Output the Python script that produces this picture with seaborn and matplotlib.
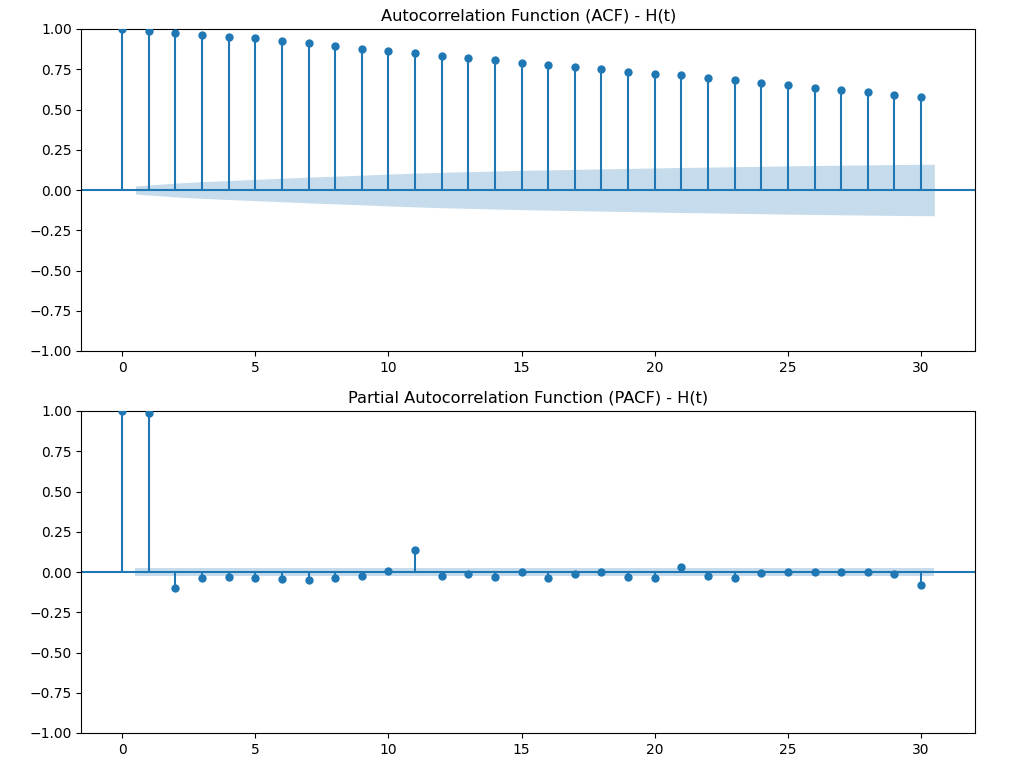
import numpy as np
import pandas as pd
import matplotlib
matplotlib.use("Agg")
import matplotlib.pyplot as plt
import seaborn as sns

lags = list(range(31))

acf_values = [1.000, 0.988, 0.977, 0.965, 0.952, 0.942, 0.923, 0.913, 0.894, 0.874,
              0.861, 0.849, 0.832, 0.818, 0.805, 0.787, 0.774, 0.762, 0.752, 0.735,
              0.722, 0.712, 0.694, 0.681, 0.665, 0.650, 0.632, 0.619, 0.607, 0.588,
              0.576]

# half-width of confidence band for lags 1..30
acf_band = [0.025, 0.043, 0.052, 0.059, 0.066, 0.073, 0.080, 0.086, 0.092, 0.099,
            0.105, 0.110, 0.114, 0.118, 0.122, 0.125, 0.128, 0.131, 0.134, 0.137,
            0.140, 0.142, 0.145, 0.147, 0.150, 0.152, 0.154, 0.156, 0.158, 0.160]

pacf_values = [1.000, 0.989, -0.097, -0.035, -0.029, -0.037, -0.041, -0.050, -0.039, -0.023,
               0.009, 0.139, -0.023, -0.014, -0.029, 0.002, -0.035, -0.014, 0.002, -0.029,
               -0.035, 0.034, -0.027, -0.035, -0.008, -0.002, -0.002, -0.002, 0.002, -0.014,
               -0.083]

pacf_band = [0.027] * 30

titles = ["Autocorrelation Function (ACF) - H(t)",
          "Partial Autocorrelation Function (PACF) - H(t)"]

fig = plt.figure(figsize=(10.2, 7.61), dpi=100)
ax1 = fig.add_axes([81.5/1020, 1-351/761, (975-81.5)/1020, (351-29)/761])
ax2 = fig.add_axes([81.5/1020, 1-733/761, (975-81.5)/1020, (733-411)/761])

color = "#1f77b4"

def draw(ax, vals, band, title):
    df = pd.DataFrame({"lag": lags, "value": vals})
    ax.vlines(df["lag"], 0, df["value"], color=color, linewidth=1.5, zorder=2)
    ax.axhline(0, color=color, linewidth=1.5, zorder=2)
    bx = np.array(lags[1:], dtype=float)
    bx[0] -= 0.5
    bx[-1] += 0.5
    b = np.array(band)
    ax.fill_between(bx, -b, b, color=color, alpha=0.25, linewidth=0, zorder=1)
    sns.scatterplot(data=df, x="lag", y="value", ax=ax, color=color, s=36,
                    linewidth=0, zorder=3, clip_on=True)
    ax.set_xlim(-1.525, 32.025)
    ax.set_ylim(-1, 1)
    ax.set_yticks([-1, -0.75, -0.5, -0.25, 0, 0.25, 0.5, 0.75, 1.0])
    ax.set_yticklabels(["−1.00", "−0.75", "−0.50", "−0.25", "0.00", "0.25", "0.50", "0.75", "1.00"])
    ax.set_xticks([0, 5, 10, 15, 20, 25, 30])
    ax.set_xlabel("")
    ax.set_ylabel("")
    ax.set_title(title, fontsize=11.7)

draw(ax1, acf_values, acf_band, titles[0])
draw(ax2, pacf_values, pacf_band, titles[1])

fig.savefig("out.png", dpi=100)
